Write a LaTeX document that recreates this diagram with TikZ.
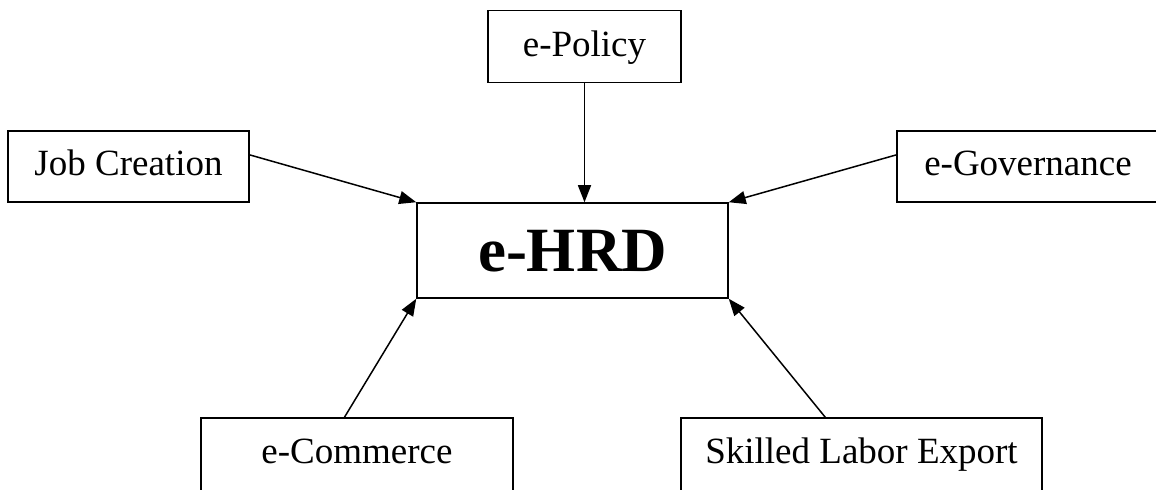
\documentclass[tikz,border=0pt]{standalone}
\usepackage{fontspec}
\setmainfont{Liberation Serif}
\usetikzlibrary{arrows.meta,calc}
\begin{document}
\begin{tikzpicture}[x=0.5pt,y=-0.5pt,
  box/.style={draw=black,line width=0.75pt,inner sep=0pt,minimum height=35.5pt,
    text height=12.95pt,text depth=3.45pt,
    font=\fontsize{18.5}{22}\selectfont},
  hub/.style={draw=black,line width=0.75pt,inner sep=0pt,minimum width=155.5pt,minimum height=47.5pt,
    text height=22pt,text depth=0.5pt,
    font=\fontsize{31.5}{36}\selectfont\bfseries},
  link/.style={line width=0.75pt,-{Triangle[length=8.5pt,width=6.5pt]}}]
\useasboundingbox (0,0) rectangle (1156,490);
\clip (0,0) rectangle (1156,490);
\node[hub] (hrd) at (572.5,250.5) {e-HRD};
\node[box,minimum width=96.5pt,minimum height=36pt] (pol) at (584.5,46.7) {e-Policy};
\node[box,minimum width=120.5pt] (job) at (128.5,166.5) {Job Creation};
\node[box,minimum width=131pt] (gov) at (1028,166.5) {e-Governance};
\node[box,minimum width=156pt,minimum height=36.5pt] (com) at (357,454.5) {e-Commerce};
\node[box,minimum width=180.5pt,minimum height=36.5pt] (ske) at (861.5,454.5) {Skilled Labor Export};
\draw[link] (pol.south) -- (pol.south |- hrd.north);
\draw[link] ($(job.north east)!0.34!(job.south east)$) -- (hrd.north west);
\draw[link] ($(gov.north west)!0.34!(gov.south west)$) -- (hrd.north east);
\draw[link] ($(com.north west)!0.46!(com.north east)$) -- (hrd.south west);
\draw[link] ($(ske.north west)!0.4!(ske.north east)$) -- (hrd.south east);
\end{tikzpicture}
\end{document}
